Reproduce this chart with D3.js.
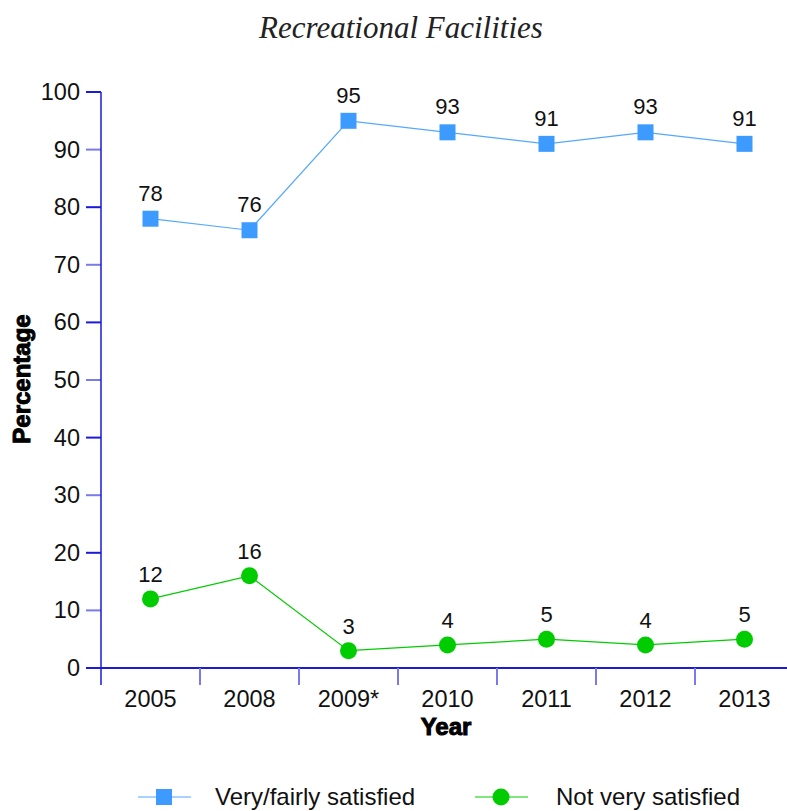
<!DOCTYPE html>
<html><head><meta charset="utf-8">
<script src="https://cdn.jsdelivr.net/npm/d3@7"></script>
<style>body{margin:0;background:#fff}svg{display:block}</style>
</head><body>
<script>
const years = ["2005","2008","2009*","2010","2011","2012","2013"];
const satisfied = [78,76,95,93,91,93,91];
const notSatisfied = [12,16,3,4,5,4,5];
const yTicks = [0,10,20,30,40,50,60,70,80,90,100];
const seriesNames = ["Very/fairly satisfied","Not very satisfied"];

const W=787,H=811;
const svg=d3.select("body").append("svg").attr("width",W).attr("height",H);
const x=d3.scaleBand().domain(years).range([101,794]);
const y=d3.scaleLinear().domain([0,100]).range([668,92]);
const axisCol="#1a1ad8", tickCol="#7a7aea";
const blue="#3d9bff", blueLine="#55a8ff", green="#00cc00";
const font="'Liberation Sans', Arial, sans-serif";

svg.append("text").attr("x",401).attr("y",38).attr("text-anchor","middle")
  .attr("font-family","'Liberation Serif', serif").attr("font-style","italic")
  .attr("font-size",31).attr("fill","#222").text("Recreational Facilities");

const g=svg.append("g");
g.selectAll(".yt").data(yTicks).enter().append("line")
  .attr("x1",86).attr("x2",101).attr("y1",d=>y(d)).attr("y2",d=>y(d))
  .attr("stroke",(d,i)=>i%2===0?axisCol:tickCol).attr("stroke-width",2);
g.selectAll(".yl").data(yTicks).enter().append("text")
  .attr("x",80).attr("y",d=>y(d)+8).attr("text-anchor","end")
  .attr("font-family",font).attr("font-size",23.5).attr("fill","#111").text(d=>d);
g.append("line").attr("x1",101).attr("x2",101).attr("y1",y(100)).attr("y2",685)
  .attr("stroke",axisCol).attr("stroke-width",1.5);
g.append("line").attr("x1",86).attr("x2",W).attr("y1",y(0)).attr("y2",y(0))
  .attr("stroke",axisCol).attr("stroke-width",2);
g.selectAll(".xt").data(years.slice(1)).enter().append("line")
  .attr("x1",d=>x(d)).attr("x2",d=>x(d)).attr("y1",y(0)).attr("y2",685)
  .attr("stroke",tickCol).attr("stroke-width",2);
g.selectAll(".xl").data(years).enter().append("text")
  .attr("x",d=>x(d)+x.bandwidth()/2).attr("y",707).attr("text-anchor","middle")
  .attr("font-family",font).attr("font-size",23.5).attr("fill","#111").text(d=>d);

svg.append("text").attr("transform","translate(30,379) rotate(-90)").attr("text-anchor","middle")
  .attr("font-family",font).attr("font-weight","bold").attr("font-size",24)
  .attr("stroke","#000").attr("stroke-width",1).text("Percentage");
svg.append("text").attr("x",446).attr("y",735).attr("text-anchor","middle")
  .attr("font-family",font).attr("font-weight","bold").attr("font-size",24)
  .attr("stroke","#000").attr("stroke-width",1).text("Year");

const cx=(d,i)=>x(years[i])+x.bandwidth()/2;
const line=d3.line().x(cx).y(d=>y(d));
svg.append("path").attr("d",line(satisfied)).attr("fill","none").attr("stroke",blueLine).attr("stroke-width",1.2);
svg.append("path").attr("d",line(notSatisfied)).attr("fill","none").attr("stroke",green).attr("stroke-width",1.2);
svg.selectAll(".sq").data(satisfied).enter().append("rect")
  .attr("x",(d,i)=>cx(d,i)-8).attr("y",d=>y(d)-8).attr("width",16).attr("height",16).attr("fill",blue);
svg.selectAll(".ci").data(notSatisfied).enter().append("circle")
  .attr("cx",cx).attr("cy",d=>y(d)).attr("r",8.5).attr("fill",green);
svg.selectAll(".sl").data(satisfied).enter().append("text")
  .attr("x",cx).attr("y",d=>y(d)-18).attr("text-anchor","middle")
  .attr("font-family",font).attr("font-size",22).attr("fill","#111").text(d=>d);
svg.selectAll(".nl").data(notSatisfied).enter().append("text")
  .attr("x",cx).attr("y",d=>y(d)-17).attr("text-anchor","middle")
  .attr("font-family",font).attr("font-size",22).attr("fill","#111").text(d=>d);

const lg=svg.append("g");
lg.append("line").attr("x1",138).attr("x2",191).attr("y1",797).attr("y2",797).attr("stroke",blueLine).attr("stroke-width",1.2);
lg.append("rect").attr("x",156).attr("y",789).attr("width",16).attr("height",16).attr("fill",blue);
lg.append("text").attr("x",215).attr("y",805).attr("font-family",font).attr("font-size",24).attr("fill","#111").text(seriesNames[0]);
lg.append("line").attr("x1",475).attr("x2",528).attr("y1",797).attr("y2",797).attr("stroke",green).attr("stroke-width",1.2);
lg.append("circle").attr("cx",501).attr("cy",797).attr("r",8.5).attr("fill",green);
lg.append("text").attr("x",556).attr("y",805).attr("font-family",font).attr("font-size",24).attr("fill","#111").text(seriesNames[1]);
</script>
</body></html>
